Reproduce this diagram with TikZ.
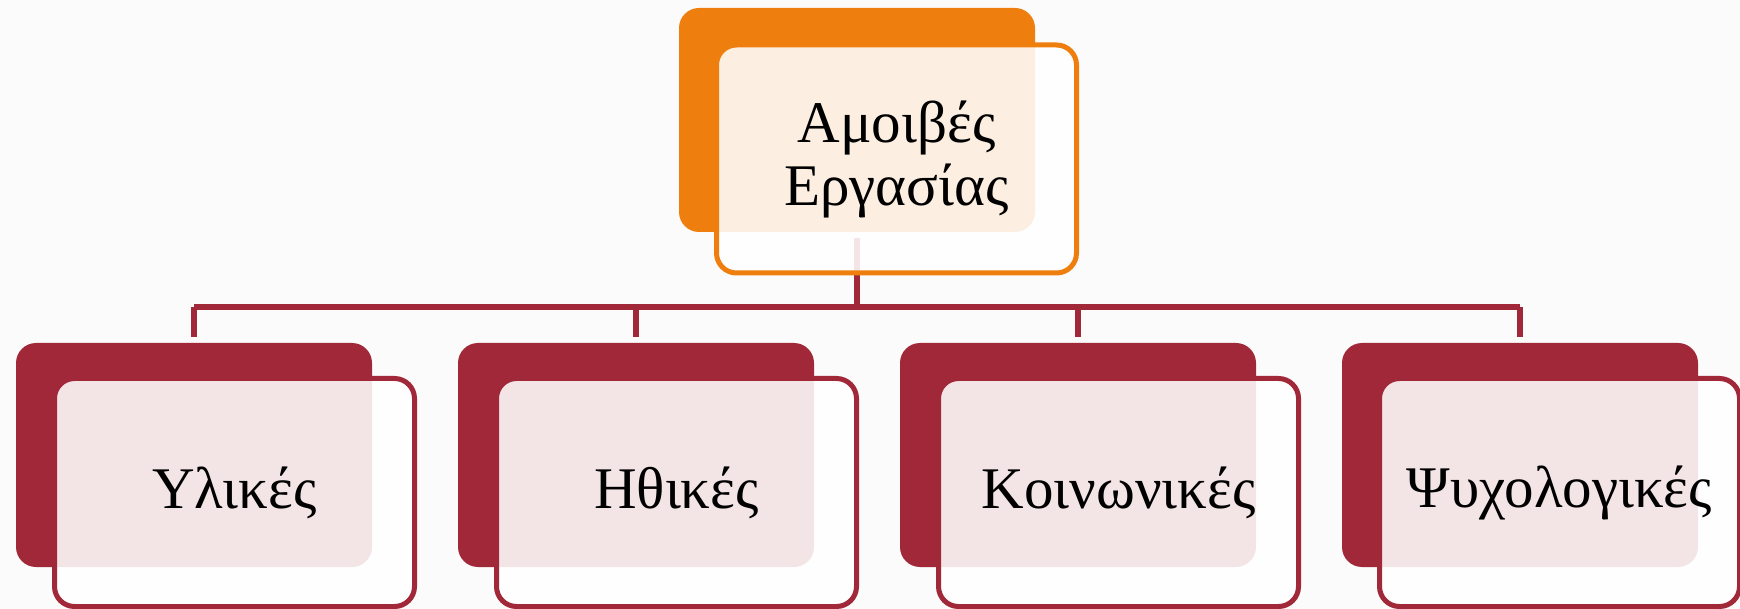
\documentclass[tikz,border=0pt]{standalone}
\usepackage{fontspec}
\setmainfont{Liberation Serif}
\definecolor{orangeA}{RGB}{238,127,14}
\definecolor{redA}{RGB}{160,40,56}
\tikzset{
  backbox/.style={rectangle, rounded corners=20pt, fill=#1, minimum width=356pt, minimum height=224pt, inner sep=0pt},
  frontbox/.style={rectangle, rounded corners=20pt, draw=#1, line width=5pt, fill=white, fill opacity=0.88, text opacity=1,
    minimum width=360pt, minimum height=228pt, inner sep=0pt, align=center, font=\fontsize{59}{63}\selectfont},
  link/.style={draw=redA, line width=6pt},
}
\begin{document}
\begin{tikzpicture}[x=1pt,y=-1pt]
\useasboundingbox (0,0) rectangle (1740,609);
\fill[white!98.5!black] (0,0) rectangle (1740,609);
% backs
\node[backbox=orangeA] (tb) at (857,120) {};
\node[backbox=redA] (b1) at (194,455) {};
\node[backbox=redA] (b2) at (636,455) {};
\node[backbox=redA] (b3) at (1078,455) {};
\node[backbox=redA] (b4) at (1520,455) {};
% connectors
\coordinate (bus) at (857,307);
\draw[link, shorten <=6pt] (tb.south) -- (bus);
\draw[link] (b1.north |- bus) -- (b4.north |- bus);
\draw[link, shorten >=6pt] (b1.north |- bus) -- (b1.north);
\draw[link, shorten >=6pt] (b2.north |- bus) -- (b2.north);
\draw[link, shorten >=6pt] (b3.north |- bus) -- (b3.north);
\draw[link, shorten >=6pt] (b4.north |- bus) -- (b4.north);
% fronts
\node[frontbox=orangeA] (tf) at (896.5,159) {Αμοιβές\\Εργασίας};
\node[frontbox=redA] (f1) at (234.5,492.5) {Υλικές};
\node[frontbox=redA] (f2) at (676.5,492.5) {Ηθικές};
\node[frontbox=redA] (f3) at (1118.5,492.5) {Κοινωνικές};
\node[frontbox=redA] (f4) at (1559.5,492.5) {Ψυχολογικές};
\end{tikzpicture}
\end{document}
